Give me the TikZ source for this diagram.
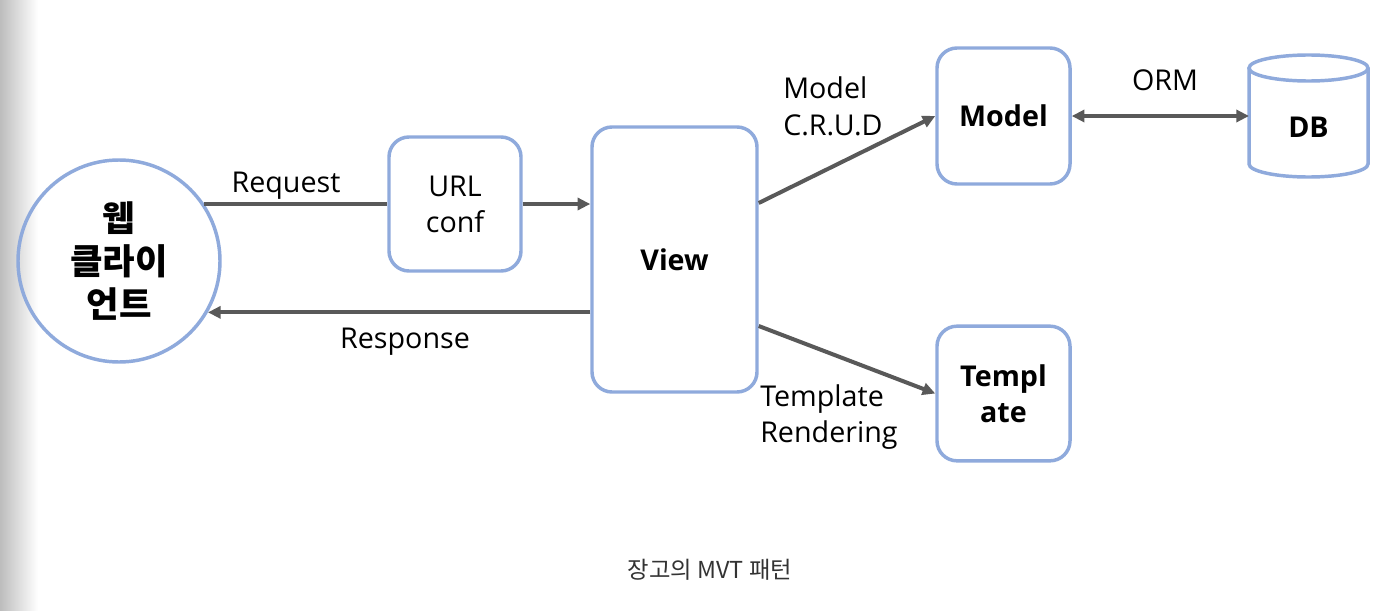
\documentclass[tikz,border=0pt]{standalone}
\usepackage{fontspec}
\setmainfont{Open Sans}
\newfontfamily\kr{Noto Sans CJK KR}
\usetikzlibrary{arrows.meta,calc}
\definecolor{bl}{HTML}{8FAADC}
\definecolor{ar}{HTML}{595959}
\begin{document}
\begin{tikzpicture}[x=0.75pt,y=-0.75pt,
  box/.style={draw=bl, line width=2.6pt, rounded corners=15pt, align=center, inner sep=0pt,
    font=\bfseries\fontsize{21.5}{27}\selectfont},
  con/.style={draw=ar, line width=3pt},
  arr/.style={con, -{Triangle[length=9.5pt,width=9pt]}},
  dblarr/.style={con, {Triangle[length=9.5pt,width=9pt]}-{Triangle[length=9.5pt,width=9pt]}},
  lbl/.style={font=\fontsize{21.5}{27.5}\selectfont, text=black, align=left, inner sep=0pt}]
\useasboundingbox (0,0) rectangle (1394,610);
\fill[white] (0,0) rectangle (1394,610);
\shade[left color=black!26, right color=white] (0,0) rectangle (38,610);

% nodes
\node[draw=bl, line width=2.6pt, circle, minimum size=151.5pt, inner sep=0pt, align=center,
  font=\kr\bfseries\fontsize{26.5}{32}\selectfont] (client) at (119,261) {웹\\클라이\\언트};
\node[box, minimum width=99pt, minimum height=100.5pt] (url) at (455,204) {\mdseries URL\\\mdseries conf};
\node[box, minimum width=123.75pt, minimum height=198.75pt] (view) at (674.5,259.5) {View};
\node[box, minimum width=99.75pt, minimum height=102pt] (model) at (1003.5,116) {Model};
\node[box, minimum width=99.75pt, minimum height=101pt] (tmpl) at (1003.5,393.5) {Templ\\ate};

% DB cylinder
\draw[bl, line width=2.6pt] (1249,68) -- (1249,164) arc[start angle=180, end angle=0, x radius=59.5, y radius=13] -- (1368,68);
\draw[bl, line width=2.6pt] (1308.5,68) ellipse [x radius=59.5, y radius=13];
\node[font=\bfseries\fontsize{21.5}{27}\selectfont, inner sep=0pt] (db) at (1308.5,127) {DB};
\coordinate (dbw) at (1249,116);

% connectors
\draw[con] (client.34) -- (client.34 -| url.west);
\draw[arr] (url.east) -- (url.east -| view.west);
\draw[arr] (view.west |- client.-30) -- (client.-30);
\draw[arr] ($(view.east)+(0,-56.5)$) -- (model.west);
\draw[arr] ($(view.east)+(0,66.5)$) -- (tmpl.west);
\draw[dblarr] (model.east) -- (dbw);

% labels
\node[lbl] (req) at (286,186) {Request};
\node[lbl] (resp) at (405,342) {Response};
\node[lbl, anchor=west] (crud) at (783,106) {Model\\C.R.U.D};
\node[lbl] (orm) at (1165,80) {ORM};
\node[lbl, anchor=west] (rend) at (760,417) {Template\\Rendering};

% caption
\node[font=\kr\fontsize{17.5}{20}\selectfont, text=black!80, inner sep=0pt] (cap) at (710,570) {장고의 MVT 패턴};
\end{tikzpicture}
\end{document}
